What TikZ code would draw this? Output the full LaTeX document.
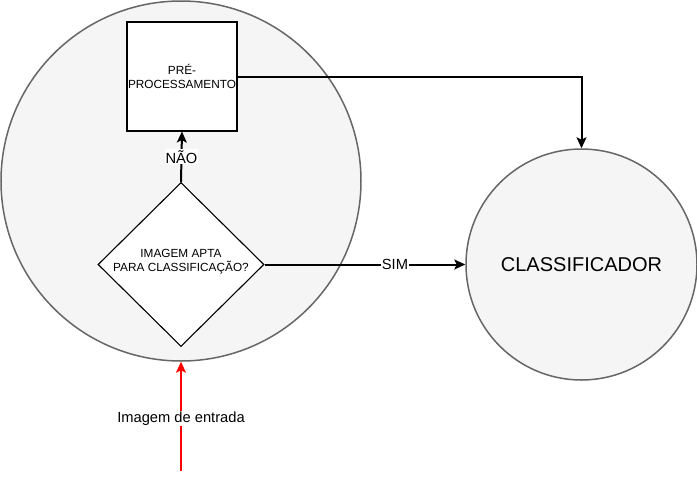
\documentclass[tikz,border=0pt]{standalone}
\usepackage{fontspec}
\setmainfont{Liberation Sans}
\usetikzlibrary{shapes.geometric,arrows.meta}
\definecolor{cfill}{HTML}{F5F5F5}
\definecolor{cdraw}{HTML}{666666}
\tikzset{
  bigcirc/.style={circle, draw=cdraw, fill=cfill, line width=1.5pt, inner sep=0pt},
  procbox/.style={rectangle, draw=black, fill=white, line width=1.1pt, minimum width=110pt, minimum height=109pt, inner sep=0pt, align=center, font=\fontsize{11.8pt}{13.5pt}\selectfont},
  decision/.style={diamond, draw=black, fill=white, line width=1.1pt, minimum width=166pt, minimum height=164pt, inner sep=0pt},
  smalltxt/.style={align=center, font=\fontsize{11.8pt}{14pt}\selectfont, inner sep=0pt},
  conn/.style={line width=2pt, -{Stealth[length=11pt,width=10pt,inset=2.5pt]}},
  elabel/.style={fill=white, text=black, inner sep=1pt, font=\fontsize{14.7pt}{16pt}\selectfont},
}
\begin{document}
\begin{tikzpicture}[x=1pt,y=1pt]
\useasboundingbox (0,0) rectangle (697,-480);
\node[bigcirc, minimum size=360pt] (outer) at (181,-181) {};
\node[bigcirc, minimum size=231pt, font=\fontsize{20pt}{22pt}\selectfont] (clf) at (581.5,-264.5) {CLASSIFICADOR};
\node[procbox] (pre) at (182,-76.5) {PRÉ-\\PROCESSAMENTO};
\node[decision] (dec) at (181,-264.5) {};
\node[smalltxt] (q) at (181,-262) {IMAGEM APTA\\PARA CLASSIFICAÇÃO?};
\coordinate (inp) at (181,-471);
\draw[conn] (dec.north) -- node[elabel, pos=0.5] (nao) {NÃO} (pre.south);
\draw[conn] (pre.east) -- (clf.north |- pre.east) -- (clf.north);
\draw[conn] (dec.east) -- node[elabel, pos=0.65] (sim) {SIM} (clf.west);
\draw[conn, red] (inp) -- node[elabel, pos=0.48] (ent) {Imagem de entrada} (outer.south);
\end{tikzpicture}
\end{document}
